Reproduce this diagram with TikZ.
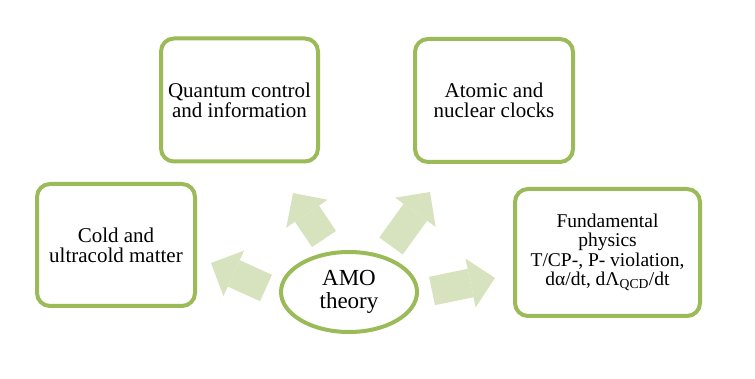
\documentclass[tikz,border=0pt]{standalone}
\usepackage{fontspec}
\setmainfont{Liberation Serif}
\usepackage{xcolor}
\usetikzlibrary{arrows.meta, shapes.geometric}

\definecolor{olive}{RGB}{155,187,89}
\definecolor{paleolive}{RGB}{215,227,191}

\begin{document}
\begin{tikzpicture}[
    x=1pt, y=-1pt,
    topic/.style={rectangle, rounded corners=13pt, draw=olive, line width=4pt, fill=white, align=center, inner sep=0pt, font=\fontsize{21}{20}\selectfont},
    core/.style={ellipse, draw=olive, line width=4pt, fill=white, align=center, inner sep=0pt, minimum width=136pt, minimum height=80pt, font=\fontsize{23}{23}\selectfont},
    fatarrow/.style={paleolive, line width=29pt, -{Triangle[length=25pt, width=50pt, line width=0pt]}}
]
    \useasboundingbox (0,0) rectangle (755,379);

    \node[topic, minimum width=157pt, minimum height=123pt] (quantum) at (239.5,100) {Quantum control\\and information};
    \node[topic, minimum width=158pt, minimum height=123pt] (clocks) at (494,100.5) {Atomic and\\nuclear clocks};
    \node[topic, minimum width=158pt, minimum height=122pt] (cold) at (116,245) {Cold and\\ultracold matter};
    \node[topic, minimum width=185pt, minimum height=127pt, font=\fontsize{19.5}{19.5}\selectfont] (fund) at (607.5,252.5) {Fundamental\\physics\\T/CP-, P- violation,\\dα/dt, dΛ\textsubscript{QCD}/dt};
    \node[core] (amo) at (349,292) {AMO\\theory};

    % block arrows out of the centre
    \coordinate (tailL) at (266,288);  \coordinate (tipL) at (211,263);
    \coordinate (tailQ) at (324,239);  \coordinate (tipQ) at (293,193);
    \coordinate (tailC) at (391,246);  \coordinate (tipC) at (430,192);
    \coordinate (tailF) at (432,291);  \coordinate (tipF) at (495,278);

    \draw[fatarrow] (tailL) -- (tipL);
    \draw[fatarrow] (tailQ) -- (tipQ);
    \draw[fatarrow] (tailC) -- (tipC);
    \draw[fatarrow] (tailF) -- (tipF);
\end{tikzpicture}
\end{document}
